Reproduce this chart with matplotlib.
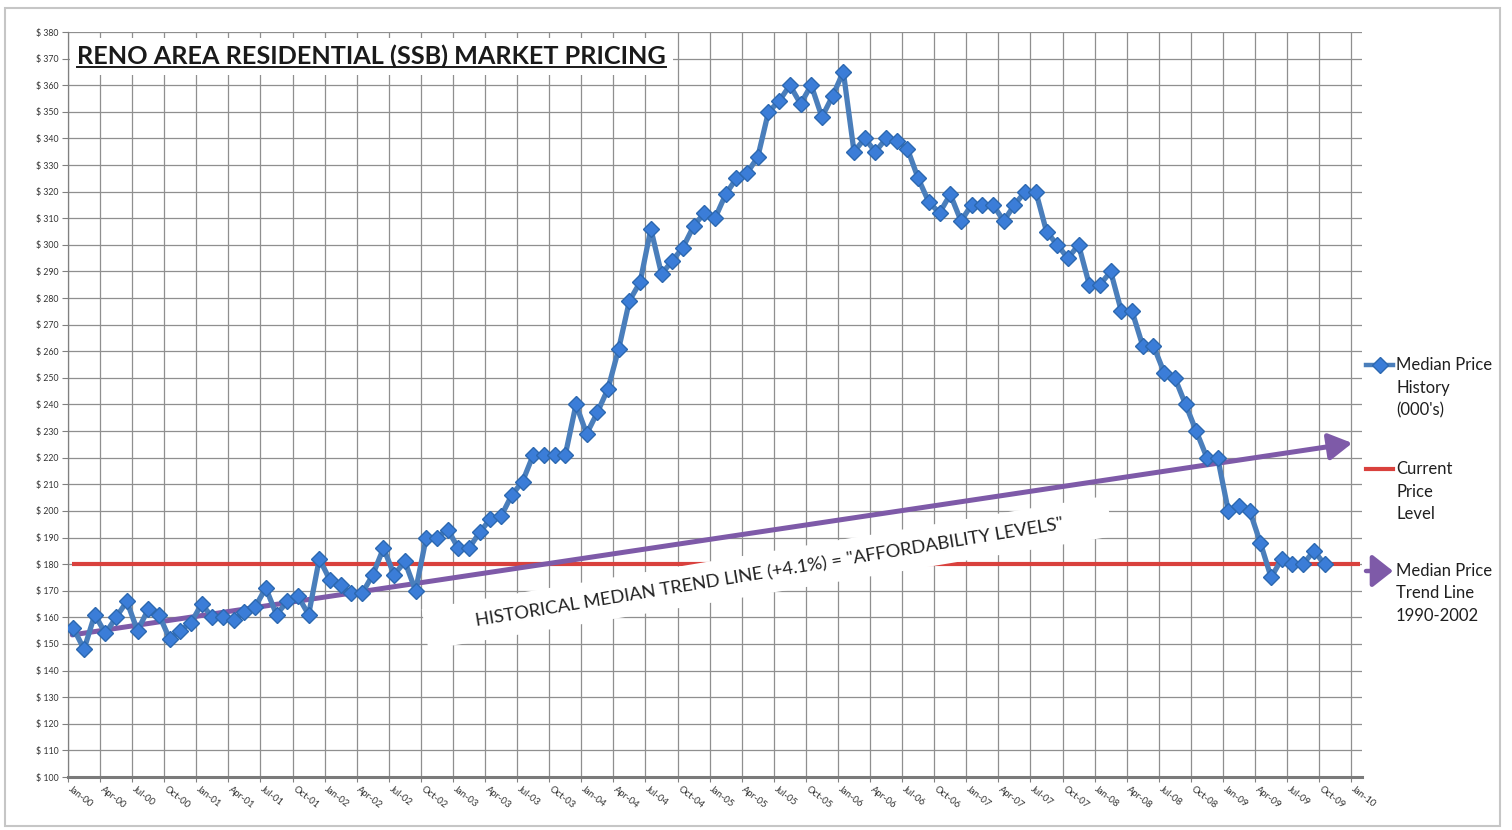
import matplotlib
matplotlib.use("Agg")
import matplotlib.pyplot as plt
import matplotlib.patches as mpatches
import matplotlib.transforms as mtransforms
from matplotlib.lines import Line2D
import numpy as np

plt.rcParams["font.family"] = ["Lato", "DejaVu Sans"]

# Monthly median price ($000's), Jan-00 .. Oct-09
MEDIAN_PRICE = [
    156, 148, 161, 154, 160, 166, 155, 163, 161, 152, 155, 158,   # 2000
    165, 160, 160, 159, 162, 164, 171, 161, 166, 168, 161, 182,   # 2001
    174, 172, 169, 169, 176, 186, 176, 181, 170, 190, 190, 193,   # 2002
    186, 186, 192, 197, 198, 206, 211, 221, 221, 221, 221, 240,   # 2003
    229, 237, 246, 261, 279, 286, 306, 289, 294, 299, 307, 312,   # 2004
    310, 319, 325, 327, 333, 350, 354, 360, 353, 360, 348, 356,   # 2005
    365, 335, 340, 335, 340, 339, 336, 325, 316, 312, 319, 309,   # 2006
    315, 315, 315, 309, 315, 320, 320, 305, 300, 295, 300, 285,   # 2007
    285, 290, 275, 275, 262, 262, 252, 250, 240, 230, 220, 220,   # 2008
    200, 202, 200, 188, 175, 182, 180, 180, 185, 180,             # 2009
]

CURRENT_LEVEL = 180
CURRENT_X = [0.4, 120.8]

# 1990-2002 median trend, extended out to 2010
TREND_X = [0.4, 120.1]
TREND_Y = [153.4, 225.5]

YEARS = ["00", "01", "02", "03", "04", "05", "06", "07", "08", "09", "10"]
QUARTER_MONTHS = ["Jan", "Apr", "Jul", "Oct"]
TICK_LABELS = [f"{m}-{y}" for y in YEARS for m in QUARTER_MONTHS][:41]
Y_TICKS = list(range(100, 390, 10))

TITLE = "RENO AREA RESIDENTIAL (SSB) MARKET PRICING"
TREND_NOTE = 'HISTORICAL MEDIAN TREND LINE (+4.1%) = "AFFORDABILITY LEVELS"'

BLUE = "#4A7EBB"
BLUE_FACE = "#3B7DD8"
BLUE_EDGE = "#2C68B0"
RED = "#D9413D"
PURPLE = "#7E5AA8"
GRID = "#8f8f8f"

W, H = 1512, 830


def fig_xy(x, y):
    # pixel position (from top-left) -> figure fraction
    return x / W, 1 - y / H


fig = plt.figure(figsize=(W / 100, H / 100), dpi=100, facecolor="white")
ax = fig.add_axes([68 / W, 1 - 777 / H, (1362 - 68) / W, (777 - 32) / H])

x = np.arange(len(MEDIAN_PRICE)) + 0.5

ax.set_xlim(0, 121)
ax.set_ylim(100, 380)
ax.set_axisbelow(True)

ax.set_xticks(np.arange(0, 121, 3))
ax.set_xticklabels(TICK_LABELS, rotation=-38, ha="left", va="top",
                   rotation_mode="anchor", fontsize=6.8, color="#333333")
ax.set_yticks(Y_TICKS)
ax.set_yticklabels([f"$ {v}" for v in Y_TICKS], fontsize=6.3, color="#333333")
ax.tick_params(axis="x", length=3.5, width=0.8, color="#808080", pad=2)
ax.tick_params(axis="y", length=4, width=0.8, color="#808080", pad=2.5)
shift = mtransforms.ScaledTranslation(4 / 100, 0, fig.dpi_scale_trans)
for lbl in ax.get_xticklabels():
    lbl.set_transform(lbl.get_transform() + shift)

ax.grid(True, color=GRID, linewidth=0.9)
for side in ["top", "right"]:
    ax.spines[side].set_visible(False)
ax.spines["left"].set_color("#808080")
ax.spines["left"].set_linewidth(0.9)
ax.spines["bottom"].set_color("#7a7a7a")
ax.spines["bottom"].set_linewidth(2.2)

# current price level
ax.plot(CURRENT_X, [CURRENT_LEVEL, CURRENT_LEVEL], color=RED,
        linewidth=3.0, solid_capstyle="butt", zorder=1)

# white band behind the trend note
band_tf = (mtransforms.Affine2D().rotate_deg(9.4)
           + fig.dpi_scale_trans
           + mtransforms.ScaledTranslation(65.4, 176.8, ax.transData))
band = mpatches.Rectangle((-3.47, -0.205), 6.94, 0.41, facecolor="white",
                          edgecolor="none", transform=band_tf, zorder=1.5)
ax.add_patch(band)

# trend arrow
ax.annotate("", xy=(TREND_X[1], TREND_Y[1]), xytext=(TREND_X[0], TREND_Y[0]),
            arrowprops=dict(arrowstyle="-|>,head_length=0.7,head_width=0.4",
                            mutation_scale=20, color=PURPLE, linewidth=3.6,
                            shrinkA=0, shrinkB=0),
            zorder=2)

# median price history
ax.plot(x, MEDIAN_PRICE, color=BLUE, linewidth=3.8, marker="D",
        markersize=8.5, markerfacecolor=BLUE_FACE, markeredgecolor=BLUE_EDGE,
        markeredgewidth=1.0, zorder=3)

ax.text(65.6, 176.8, TREND_NOTE, rotation=9.4, rotation_mode="anchor",
        ha="center", va="center", fontsize=13.2, color="#222222", zorder=4)

title = ax.text((77 - 68) / 1294, (777 - 64) / 745, TITLE, transform=ax.transAxes,
                ha="left", va="baseline", fontsize=18.2, fontweight="bold",
                color="#1a1a1a", zorder=5,
                bbox=dict(facecolor="white", edgecolor="none", pad=5))

# underline the title
fig.canvas.draw()
bb = title.get_window_extent()
fig.add_artist(Line2D([bb.x0, bb.x1], [bb.y0 + 1, bb.y0 + 1], transform=None,
                      color="#1a1a1a", linewidth=1.4))

# legend, drawn at the right of the plot area (y = first text line)
lx0, lx1, ltext = 1366, 1393, 1396
leg = [
    ("Median Price\nHistory\n(000's)", 365),
    ("Current\nPrice\nLevel", 469),
    ("Median Price\nTrend Line\n1990-2002", 571),
]
for label, ly in leg:
    tx, ty = fig_xy(ltext, ly - 8)
    fig.text(tx, ty, label, ha="left", va="top", fontsize=12,
             color="#1f1f1f", linespacing=1.5)

(ax0, ay0), (ax1, _) = fig_xy(lx0, leg[0][1]), fig_xy(lx1, leg[0][1])
fig.add_artist(Line2D([ax0, ax1], [ay0, ay0], transform=fig.transFigure,
                      color=BLUE, linewidth=3.2))
fig.add_artist(Line2D([(ax0 + ax1) / 2], [ay0], transform=fig.transFigure,
                      marker="D", markersize=8, markerfacecolor=BLUE_FACE,
                      markeredgecolor=BLUE_EDGE, linestyle="none"))

(bx0, by0), (bx1, _) = fig_xy(lx0, leg[1][1]), fig_xy(lx1, leg[1][1])
fig.add_artist(Line2D([bx0, bx1], [by0, by0], transform=fig.transFigure,
                      color=RED, linewidth=3.0))

(cx0, cy0), (cx1, _) = fig_xy(lx0, leg[2][1]), fig_xy(lx1, leg[2][1])
fig.add_artist(mpatches.FancyArrowPatch(
    (cx0, cy0), (cx1, cy0), transform=fig.transFigure,
    arrowstyle="-|>,head_length=0.7,head_width=0.55", mutation_scale=18,
    color=PURPLE, linewidth=3.2, shrinkA=0, shrinkB=0))

# outer chart border
fx, fy = fig_xy(5, 826)
fig.add_artist(mpatches.Rectangle((fx, fy), 1495 / W, 818 / H,
                                  transform=fig.transFigure, fill=False,
                                  edgecolor="#c6c6c6", linewidth=1.5))

fig.savefig("out.png", dpi=100, facecolor="white")
